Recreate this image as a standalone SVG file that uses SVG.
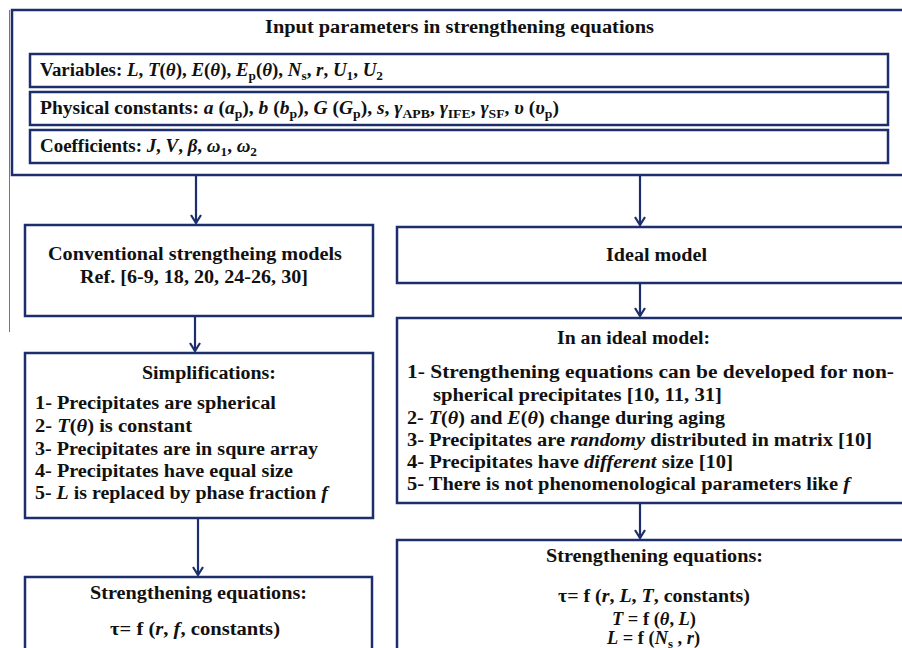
<svg xmlns="http://www.w3.org/2000/svg" width="902" height="648" viewBox="0 0 902 648">
<style>
  .bx{fill:#ffffff;stroke:#1c2e6c;stroke-width:2.5}
  .ib{fill:#ffffff;stroke:#1c2e6c;stroke-width:2.5}
  .t{font-family:"Liberation Serif","DejaVu Serif",serif;font-weight:bold;font-size:18.5px;fill:#111111}
  .i{font-style:italic}
  .s{font-size:13px;baseline-shift:-4px;font-style:normal}
  .cn{stroke:#1c2e6c;stroke-width:2.2;fill:none}
</style>
<defs>
  <marker id="ah" viewBox="0 0 12 10" refX="6" refY="9" markerWidth="12" markerHeight="10" markerUnits="userSpaceOnUse" orient="0">
    <path d="M1,1 L6,9 L11,1" fill="none" stroke="#1c2e6c" stroke-width="2.2"/>
  </marker>
</defs>
<rect width="902" height="648" fill="#ffffff"/>
<line x1="9.5" y1="10" x2="9.5" y2="332" stroke="#777777" stroke-width="1"/>

<g id="inputs">
  <rect class="bx" x="12" y="10" width="900" height="165"/>
  <text class="t" x="265" y="33" textLength="389" lengthAdjust="spacingAndGlyphs">Input parameters in strengthening equations</text>
</g>
<g id="variables">
  <rect class="ib" x="30" y="54" width="858" height="33"/>
  <text class="t" x="40" y="76" textLength="343" lengthAdjust="spacingAndGlyphs">Variables: <tspan class="i">L</tspan>, <tspan class="i">T</tspan>(<tspan class="i">θ</tspan>), <tspan class="i">E</tspan>(<tspan class="i">θ</tspan>), <tspan class="i">E</tspan><tspan class="s">p</tspan>(<tspan class="i">θ</tspan>), <tspan class="i">N</tspan><tspan class="s">s</tspan>, <tspan class="i">r</tspan>, <tspan class="i">U</tspan><tspan class="s">1</tspan>, <tspan class="i">U</tspan><tspan class="s">2</tspan></text>
</g>
<g id="constants">
  <rect class="ib" x="30" y="92" width="858" height="33"/>
  <text class="t" x="40" y="114" textLength="519" lengthAdjust="spacingAndGlyphs">Physical constants: <tspan class="i">a</tspan> (<tspan class="i">a</tspan><tspan class="s">p</tspan>), <tspan class="i">b</tspan> (<tspan class="i">b</tspan><tspan class="s">p</tspan>), <tspan class="i">G</tspan> (<tspan class="i">G</tspan><tspan class="s">p</tspan>), <tspan class="i">s</tspan>, <tspan class="i">γ</tspan><tspan class="s">APB</tspan>, <tspan class="i">γ</tspan><tspan class="s">IFE</tspan>, <tspan class="i">γ</tspan><tspan class="s">SF</tspan>, <tspan class="i">υ</tspan> (<tspan class="i">υ</tspan><tspan class="s">p</tspan>)</text>
</g>
<g id="coefficients">
  <rect class="ib" x="30" y="130" width="858" height="33"/>
  <text class="t" x="40" y="152" textLength="217" lengthAdjust="spacingAndGlyphs">Coefficients: <tspan class="i">J</tspan>, <tspan class="i">V</tspan>, <tspan class="i">β</tspan>, <tspan class="i">ω</tspan><tspan class="s">1</tspan>, <tspan class="i">ω</tspan><tspan class="s">2</tspan></text>
</g>

<g id="conventional">
  <rect class="bx" x="25" y="225" width="348" height="91"/>
  <text class="t" x="48" y="260" textLength="294" lengthAdjust="spacingAndGlyphs">Conventional strengtheing models</text>
  <text class="t" x="80" y="283" textLength="228" lengthAdjust="spacingAndGlyphs">Ref. [6-9, 18, 20, 24-26, 30]</text>
</g>
<g id="ideal">
  <rect class="bx" x="397" y="227" width="515" height="56"/>
  <text class="t" x="606" y="261" textLength="101" lengthAdjust="spacingAndGlyphs">Ideal model</text>
</g>
<g id="ideal-details">
  <rect class="bx" x="397" y="318" width="515" height="185"/>
  <text class="t" x="557" y="344" textLength="153" lengthAdjust="spacingAndGlyphs">In an ideal model:</text>
  <text class="t" x="407" y="378" textLength="487" lengthAdjust="spacingAndGlyphs">1- Strengthening equations can be developed for non-</text>
  <text class="t" x="433" y="401" textLength="289" lengthAdjust="spacingAndGlyphs">spherical precipitates [10, 11, 31]</text>
  <text class="t" x="407" y="424" textLength="318" lengthAdjust="spacingAndGlyphs">2- <tspan class="i">T</tspan>(<tspan class="i">θ</tspan>) and <tspan class="i">E</tspan>(<tspan class="i">θ</tspan>) change during aging</text>
  <text class="t" x="407" y="446" textLength="465" lengthAdjust="spacingAndGlyphs">3- Precipitates are <tspan class="i">randomy</tspan> distributed in matrix [10]</text>
  <text class="t" x="407" y="468" textLength="326" lengthAdjust="spacingAndGlyphs">4- Precipitates have <tspan class="i">different</tspan> size [10]</text>
  <text class="t" x="407" y="490" textLength="443" lengthAdjust="spacingAndGlyphs">5- There is not phenomenological parameters like  <tspan class="i">f</tspan></text>
</g>
<g id="simplifications">
  <rect class="bx" x="25" y="353" width="348" height="165"/>
  <text class="t" x="142" y="379" textLength="134" lengthAdjust="spacingAndGlyphs">Simplifications:</text>
  <text class="t" x="35" y="409" textLength="241" lengthAdjust="spacingAndGlyphs">1- Precipitates are spherical</text>
  <text class="t" x="35" y="432" textLength="157" lengthAdjust="spacingAndGlyphs">2- <tspan class="i">T</tspan>(<tspan class="i">θ</tspan>) is constant</text>
  <text class="t" x="35" y="455" textLength="283" lengthAdjust="spacingAndGlyphs">3- Precipitates are in squre array</text>
  <text class="t" x="35" y="477" textLength="258" lengthAdjust="spacingAndGlyphs">4- Precipitates have equal size</text>
  <text class="t" x="35" y="499" textLength="293" lengthAdjust="spacingAndGlyphs">5- <tspan class="i">L</tspan> is replaced by phase fraction <tspan class="i">f</tspan></text>
</g>
<g id="equations-conventional">
  <rect class="bx" x="25" y="577" width="347" height="90"/>
  <text class="t" x="90" y="599" textLength="217" lengthAdjust="spacingAndGlyphs">Strengthening equations:</text>
  <text class="t" x="110" y="635" textLength="170" lengthAdjust="spacingAndGlyphs">τ= f (<tspan class="i">r</tspan>, <tspan class="i">f</tspan>, constants)</text>
</g>
<g id="equations-ideal">
  <rect class="bx" x="397" y="540" width="515" height="127"/>
  <text class="t" x="546" y="562" textLength="217" lengthAdjust="spacingAndGlyphs">Strengthening equations:</text>
  <text class="t" x="558" y="602" textLength="192" lengthAdjust="spacingAndGlyphs">τ= f (<tspan class="i">r</tspan>, <tspan class="i">L</tspan>, <tspan class="i">T</tspan>, constants)</text>
  <text class="t" x="612" y="625" textLength="84" lengthAdjust="spacingAndGlyphs"><tspan class="i">T</tspan> = f (<tspan class="i">θ</tspan>, <tspan class="i">L</tspan>)</text>
  <text class="t" x="607" y="644" textLength="93" lengthAdjust="spacingAndGlyphs"><tspan class="i">L</tspan> = f (<tspan class="i">N</tspan><tspan class="s">s</tspan> , <tspan class="i">r</tspan>)</text>
</g>

<g id="connectors">
  <line class="cn" x1="196" y1="176" x2="196" y2="223" marker-end="url(#ah)"/>
  <line class="cn" x1="640" y1="176" x2="640" y2="225" marker-end="url(#ah)"/>
  <line class="cn" x1="640" y1="284" x2="640" y2="316" marker-end="url(#ah)"/>
  <line class="cn" x1="195" y1="317" x2="195" y2="351" marker-end="url(#ah)"/>
  <line class="cn" x1="198" y1="519" x2="198" y2="575" marker-end="url(#ah)"/>
  <line class="cn" x1="640" y1="504" x2="640" y2="538" marker-end="url(#ah)"/>
</g>
</svg>
